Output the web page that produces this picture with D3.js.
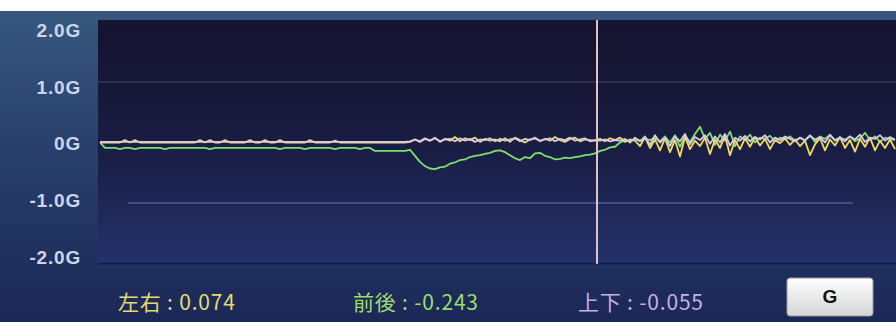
<!DOCTYPE html>
<head>
<meta charset="utf-8">
<title>G sensor</title>
<script src="https://d3js.org/d3.v7.min.js"></script>
<style>
body { margin: 0; background: #fff; }
svg { display: block; font-family: "Liberation Sans", Arial, sans-serif; }
.ylab { font-size: 19px; font-weight: bold; fill: #cdd6e8; letter-spacing: 0.8px; }
.readout { font-size: 21px; letter-spacing: 0.8px; font-family: "Noto Sans CJK JP", "Liberation Sans", sans-serif; }
.line { fill: none; stroke-width: 1.8; stroke-linejoin: round; }
</style>
</head>
<body>
<div id="chart"></div>
<script>

/* Data: one sample every 5 px */
var frontBack = [
  0.0,-0.09,-0.09,-0.09,-0.11,-0.09,-0.09,-0.11,-0.09,-0.09,
  -0.09,-0.09,-0.09,-0.11,-0.09,-0.09,-0.09,-0.09,-0.09,-0.09,
  -0.09,-0.09,-0.11,-0.09,-0.09,-0.09,-0.09,-0.09,-0.09,-0.09,
  -0.09,-0.09,-0.09,-0.09,-0.09,-0.09,-0.11,-0.09,-0.09,-0.09,
  -0.09,-0.11,-0.09,-0.09,-0.09,-0.09,-0.09,-0.11,-0.09,-0.09,
  -0.09,-0.09,-0.11,-0.09,-0.09,-0.14,-0.14,-0.14,-0.14,-0.14,
  -0.14,-0.14,-0.12,-0.22,-0.32,-0.39,-0.43,-0.44,-0.41,-0.40,
  -0.35,-0.33,-0.29,-0.28,-0.24,-0.22,-0.21,-0.19,-0.17,-0.14,
  -0.13,-0.16,-0.21,-0.26,-0.29,-0.24,-0.26,-0.18,-0.17,-0.22,
  -0.24,-0.28,-0.27,-0.25,-0.26,-0.24,-0.23,-0.21,-0.20,-0.18,
  -0.14,-0.12,-0.08,-0.07,0.0,0.03,0.02,0.05,0.03,0.06,
  0.04,0.08,0.02,0.10,0.0,0.12,-0.07,0.10,0.01,0.14,
  0.26,0.06,0.16,-0.04,0.13,0.03,0.18,-0.06,0.10,0.04,
  0.13,0.0,0.08,0.06,0.11,0.02,0.08,0.05,0.10,0.03,
  0.08,0.04,0.12,0.01,0.10,0.06,0.13,0.03,0.08,0.05,
  0.10,0.02,0.07,0.16,0.04,0.10,0.01,0.08,0.06,0.04
];

var leftRight = [
  0.0,0.0,0.0,0.0,0.0,0.04,0.0,0.04,0.0,0.0,
  0.0,0.0,0.0,0.0,0.0,0.0,0.0,0.0,0.0,0.0,
  0.04,0.0,0.04,0.0,0.0,0.04,0.0,0.0,0.0,0.0,
  0.04,0.0,0.0,0.04,0.0,0.0,0.04,0.0,0.0,0.0,
  0.0,0.0,0.04,0.0,0.0,0.0,0.0,0.03,0.0,0.0,
  0.0,0.0,0.0,0.0,0.0,0.0,0.0,0.0,0.0,0.0,
  0.0,0.0,0.01,0.05,0.02,0.07,0.03,0.08,0.01,0.06,
  0.03,0.09,0.02,0.07,0.04,0.08,0.01,0.06,0.03,0.05,
  0.02,0.07,0.01,0.08,0.04,0.0,0.05,0.07,0.02,0.06,
  0.03,0.09,0.04,0.01,0.06,0.08,0.02,0.05,0.04,0.03,
  0.06,0.02,0.07,0.04,0.08,0.01,0.05,0.03,-0.06,0.09,
  -0.09,0.05,-0.13,0.07,-0.16,0.04,-0.23,0.09,-0.11,0.03,
  -0.06,0.08,-0.19,0.05,-0.09,0.11,-0.21,0.04,-0.11,0.07,
  -0.07,0.09,-0.05,0.06,-0.11,0.04,-0.01,0.07,-0.04,0.05,
  -0.06,0.03,-0.21,-0.03,0.07,-0.13,0.05,-0.05,0.09,-0.09,
  0.04,-0.15,0.06,-0.07,0.08,-0.13,0.03,-0.09,0.05,-0.11
];

var upDown = [
  0.01,0.01,0.01,0.01,0.01,0.01,0.01,0.01,0.01,0.01,
  0.01,0.01,0.01,0.01,0.01,0.01,0.01,0.01,0.01,0.01,
  0.01,0.01,0.01,0.01,0.01,0.01,0.01,0.01,0.01,0.01,
  0.01,0.01,0.01,0.01,0.01,0.01,0.01,0.01,0.01,0.01,
  0.01,0.01,0.01,0.01,0.01,0.01,0.01,0.01,0.01,0.01,
  0.01,0.01,0.01,0.01,0.01,0.01,0.01,0.01,0.01,0.01,
  0.01,0.01,0.02,0.05,0.01,0.06,0.03,0.07,0.02,0.05,
  0.06,0.02,0.07,0.03,0.06,0.01,0.05,0.04,0.07,0.02,
  0.06,0.03,0.05,0.07,0.02,0.06,0.04,0.08,0.03,0.05,
  0.07,0.02,0.06,0.04,0.08,0.03,0.05,0.07,0.02,0.04,
  0.03,0.05,0.02,0.04,0.03,0.06,0.0,0.08,0.02,0.10,
  -0.04,0.12,0.0,0.08,-0.06,0.10,0.02,0.14,-0.03,0.09,
  0.04,0.12,-0.02,0.10,0.0,0.14,-0.05,0.08,0.03,0.11,
  0.02,0.09,0.05,0.12,0.0,0.08,0.04,0.10,0.06,0.02,
  0.08,0.03,0.11,0.05,0.09,0.0,0.12,0.04,0.08,0.02,
  0.10,0.05,0.13,0.01,0.08,0.06,0.12,0.03,0.09,0.05
];

var yTicks = [2, 1, 0, -1, -2];
var yTickLabels = ["2.0G", "1.0G", "0G", "-1.0G", "-2.0G"];

var readoutNames = ["左右", "前後", "上下"];
var readoutValues = ["0.074", "-0.243", "-0.055"];
var cursorIndex = 99.4;

var width = 896;
var height = 322;
var plotLeft = 98, plotRight = 896, plotTop = 20, plotBottom = 264;

var lineColors = ["#f2dc5c", "#d6c8ee", "#7fe06a"];
var readoutColors = ["#e2dc6c", "#9cdc6c", "#c2b2e4"];

/* Scales */
var xScale = d3.scaleLinear()
  .domain([0, frontBack.length - 1])
  .range([100, 895]);

var yScale = d3.scaleLinear()
  .domain([-2, 2])
  .range([263.5, 21.5]);

var labelScale = d3.scaleLinear()
  .domain([-2, 2])
  .range([257, 30]);

var svg = d3.select("#chart").append("svg")
  .attr("width", width)
  .attr("height", height);

var defs = svg.append("defs");

var panelGrad = defs.append("linearGradient")
  .attr("id", "panel").attr("x1", 0).attr("y1", 0).attr("x2", 0).attr("y2", 1);
panelGrad.append("stop").attr("offset", "0%").attr("stop-color", "#36587f");
panelGrad.append("stop").attr("offset", "45%").attr("stop-color", "#283f6c");
panelGrad.append("stop").attr("offset", "100%").attr("stop-color", "#1b2757");

var plotGrad = defs.append("linearGradient")
  .attr("id", "plot").attr("x1", 0).attr("y1", 0).attr("x2", 0).attr("y2", 1);
plotGrad.append("stop").attr("offset", "0%").attr("stop-color", "#141330");
plotGrad.append("stop").attr("offset", "30%").attr("stop-color", "#171738");
plotGrad.append("stop").attr("offset", "60%").attr("stop-color", "#1b2049");
plotGrad.append("stop").attr("offset", "100%").attr("stop-color", "#24326b");

var btnGrad = defs.append("linearGradient")
  .attr("id", "btn").attr("x1", 0).attr("y1", 0).attr("x2", 0).attr("y2", 1);
btnGrad.append("stop").attr("offset", "0%").attr("stop-color", "#ffffff");
btnGrad.append("stop").attr("offset", "100%").attr("stop-color", "#d4d4d4");

/* Background */
svg.append("rect")
  .attr("x", 0).attr("y", 11)
  .attr("width", width).attr("height", height - 11)
  .attr("fill", "url(#panel)");

svg.append("rect")
  .attr("x", plotLeft).attr("y", plotTop)
  .attr("width", plotRight - plotLeft).attr("height", plotBottom - plotTop)
  .attr("fill", "url(#plot)");

/* Grid lines */
svg.append("line")
  .attr("x1", plotLeft).attr("x2", plotRight)
  .attr("y1", yScale(1)).attr("y2", yScale(1))
  .attr("stroke", "#353a64").attr("stroke-width", 1.5);

svg.append("line")
  .attr("x1", 128).attr("x2", 853)
  .attr("y1", yScale(-1)).attr("y2", yScale(-1))
  .attr("stroke", "#4b5c8d").attr("stroke-width", 1.5);

svg.append("line")
  .attr("x1", plotLeft).attr("x2", plotRight)
  .attr("y1", yScale(-2)).attr("y2", yScale(-2))
  .attr("stroke", "#141b3c").attr("stroke-width", 1.5);

/* Y labels */
svg.selectAll(".ylab")
  .data(yTicks).enter()
  .append("text")
  .attr("class", "ylab")
  .attr("x", 81)
  .attr("y", d => labelScale(d))
  .attr("dy", "0.36em")
  .attr("text-anchor", "end")
  .text((d, i) => yTickLabels[i]);

/* Lines */
var line = d3.line()
  .x((d, i) => xScale(i))
  .y(d => yScale(d));

var series = [leftRight, upDown, frontBack];
var order = [2, 0, 1];

svg.append("g")
  .selectAll("path")
  .data(order).enter()
  .append("path")
  .attr("class", "line")
  .attr("d", k => line(series[k]))
  .attr("stroke", k => lineColors[k]);

/* Cursor */
svg.append("line")
  .attr("x1", xScale(cursorIndex)).attr("x2", xScale(cursorIndex))
  .attr("y1", plotTop).attr("y2", plotBottom)
  .attr("stroke", "#e0c2c0").attr("stroke-width", 2);

/* Readouts */
var readoutX = [118, 353, 578];
svg.selectAll(".readout")
  .data(readoutNames).enter()
  .append("text")
  .attr("class", "readout")
  .attr("x", (d, i) => readoutX[i])
  .attr("y", 310)
  .attr("fill", (d, i) => readoutColors[i])
  .text((d, i) => d + " : " + readoutValues[i]);

/* G button */
svg.append("rect")
  .attr("x", 787).attr("y", 278)
  .attr("width", 86).attr("height", 38)
  .attr("rx", 3)
  .attr("fill", "url(#btn)")
  .attr("stroke", "#9a9a9a");

svg.append("text")
  .attr("x", 830).attr("y", 296)
  .attr("dy", "0.36em")
  .attr("text-anchor", "middle")
  .style("font-size", "19px")
  .style("font-weight", "bold")
  .attr("fill", "#111")
  .text("G");

</script>
</body>
</html>
